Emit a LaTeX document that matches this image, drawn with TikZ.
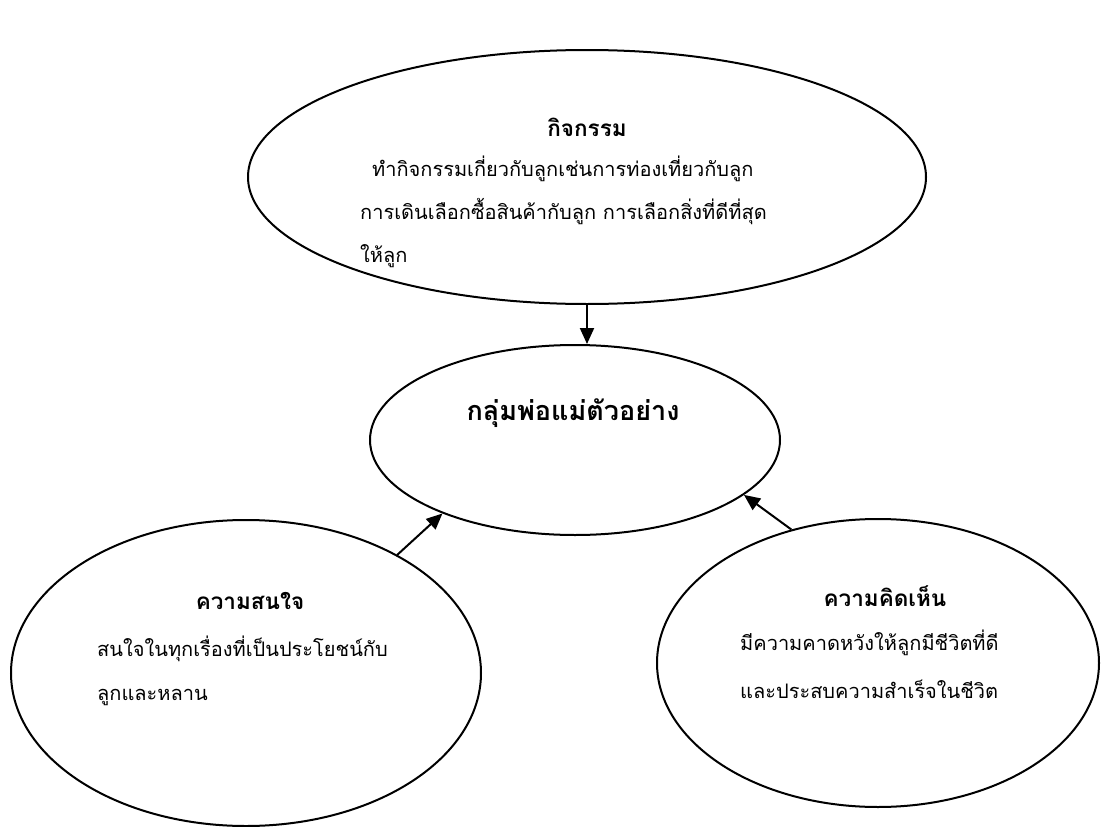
\documentclass[tikz,border=0pt]{standalone}
\usepackage{fontspec}
\usetikzlibrary{shapes.geometric,arrows.meta}
\newfontfamily\thaifont[Script=Thai]{Loma}
\begin{document}
\begin{tikzpicture}[x=1pt,y=-1pt,
  bubble/.style={draw,ellipse,line width=2pt,inner sep=0pt},
  txt/.style={font=\thaifont\fontsize{20}{24}\selectfont,inner sep=0pt,anchor=base west},
  ttl/.style={font=\thaifont\bfseries\fontsize{22.5}{26}\selectfont,inner sep=0pt,anchor=base},
  link/.style={line width=2pt,-{Triangle[length=16pt,width=14pt]}}]
\useasboundingbox (0,0) rectangle (1104,827);

% the four ellipses
\node[bubble,minimum width=678pt,minimum height=254pt] (act) at (587,177) {};
\node[bubble,minimum width=410pt,minimum height=190pt] (core) at (575,440) {};
\node[bubble,minimum width=470pt,minimum height=306pt] (interest) at (246,673) {};
\node[bubble,minimum width=442pt,minimum height=288pt] (opinion) at (878,663) {};

% top ellipse text
\node[ttl] (actT) at (587,136) {กิจกรรม};
\node[txt] (actA) at (372,176) {ทำกิจกรรมเกี่ยวกับลูกเช่นการท่องเที่ยวกับลูก};
\node[txt] (actB) at (360,219) {การเดินเลือกซื้อสินค้ากับลูก การเลือกสิ่งที่ดีที่สุด};
\node[txt] (actC) at (360,262) {ให้ลูก};

% centre
\node[font=\thaifont\bfseries\fontsize{27}{32}\selectfont,inner sep=0pt,anchor=base] (coreT) at (573,420) {กลุ่มพ่อแม่ตัวอย่าง};

% left ellipse text
\node[ttl] (intT) at (250,609) {ความสนใจ};
\node[txt] (intA) at (97,656) {สนใจในทุกเรื่องที่เป็นประโยชน์กับ};
\node[txt] (intB) at (97,700) {ลูกและหลาน};

% right ellipse text
\node[ttl] (opT) at (885,606) {ความคิดเห็น};
\node[txt] (opA) at (740,650) {มีความคาดหวังให้ลูกมีชีวิตที่ดี};
\node[txt] (opB) at (740,698) {และประสบความสำเร็จในชีวิต};

% arrows into the centre
\draw[link] (act.south) -- (core.north -| act.south);
\draw[link] (interest.38) -- (core.209);
\draw[link] (opinion.123) -- (core.342);
\end{tikzpicture}
\end{document}
